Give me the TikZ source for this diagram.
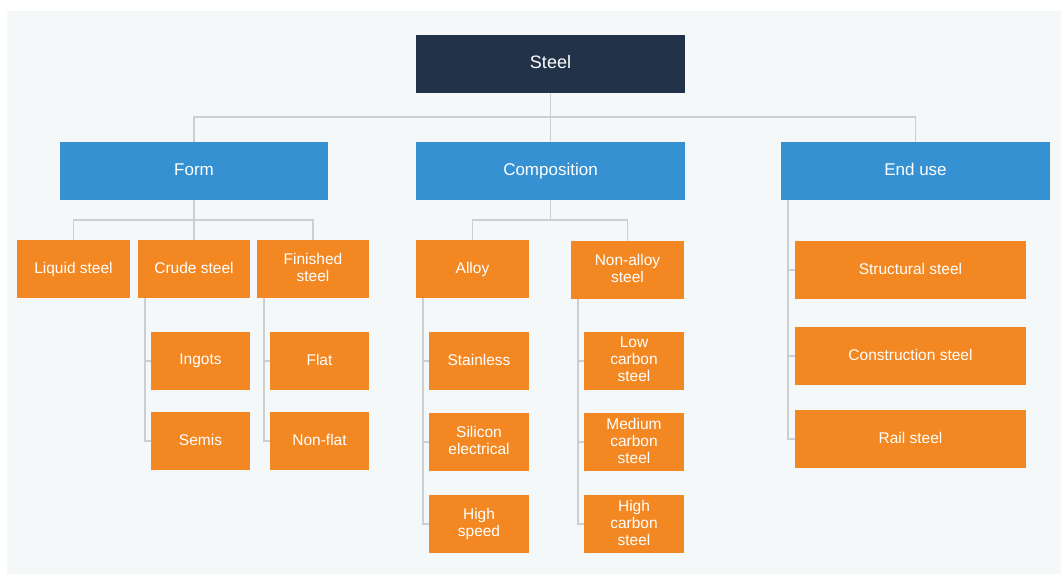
\documentclass[tikz,border=0pt]{standalone}
\usepackage{fontspec}
\setmainfont{Liberation Sans}
\definecolor{bgc}{RGB}{244,248,249}
\definecolor{navy}{RGB}{34,50,72}
\definecolor{blu}{RGB}{53,145,209}
\definecolor{ora}{RGB}{243,136,35}
\definecolor{lin}{RGB}{203,207,209}
\tikzset{
  base/.style={draw=none, inner sep=0pt, align=center, text=white, anchor=center},
  rootbox/.style={base, fill=navy, font=\fontsize{18}{20}\selectfont},
  catbox/.style={base, fill=blu, font=\fontsize{17}{20}\selectfont},
  leafbox/.style={base, fill=ora, font=\fontsize{15.5}{17}\selectfont},
  conn/.style={draw=lin, line width=1.8pt}
}
\begin{document}
\begin{tikzpicture}[x=1pt,y=-1pt]
\useasboundingbox (0,0) rectangle (1061,574);
\fill[bgc] (7,11) rectangle (1061,574);
% root
\node[rootbox, minimum width=269pt, minimum height=58pt] (steel) at (550.5,64) {Steel\vphantom{g}};
% categories
\node[catbox, minimum width=268pt, minimum height=58pt] (form) at (194,171) {Form\vphantom{g}};
\node[catbox, minimum width=269pt, minimum height=58pt] (comp) at (550.5,171) {Composition};
\node[catbox, minimum width=269pt, minimum height=58pt] (enduse) at (915.5,171) {End use\vphantom{g}};
% form children
\node[leafbox, minimum width=113pt, minimum height=58pt] (liquid) at (73.5,269) {Liquid steel};
\node[leafbox, minimum width=112pt, minimum height=58pt] (crude) at (194,269) {Crude steel\vphantom{g}};
\node[leafbox, minimum width=112pt, minimum height=58pt] (finished) at (313,269) {Finished\\steel\vphantom{g}};
\node[leafbox, minimum width=99pt, minimum height=58pt] (ingots) at (200.5,361) {Ingots};
\node[leafbox, minimum width=99pt, minimum height=58pt] (semis) at (200.5,441) {Semis\vphantom{g}};
\node[leafbox, minimum width=99pt, minimum height=58pt] (flat) at (319.5,361) {Flat\vphantom{g}};
\node[leafbox, minimum width=99pt, minimum height=58pt] (nonflat) at (319.5,441) {Non-flat\vphantom{g}};
% composition children
\node[leafbox, minimum width=113pt, minimum height=58pt] (alloy) at (472.5,269) {Alloy};
\node[leafbox, minimum width=113pt, minimum height=58pt] (nonalloy) at (627.5,270) {Non-alloy\\steel\vphantom{g}};
\node[leafbox, minimum width=100pt, minimum height=58pt] (stainless) at (479,361) {Stainless\vphantom{g}};
\node[leafbox, minimum width=100pt, minimum height=58pt] (silicon) at (479,442) {Silicon\\electrical\vphantom{g}};
\node[leafbox, minimum width=100pt, minimum height=58pt] (highspeed) at (479,524) {High\\speed};
\node[leafbox, minimum width=100pt, minimum height=58pt] (lowc) at (634,361) {Low\\carbon\\steel\vphantom{g}};
\node[leafbox, minimum width=100pt, minimum height=58pt] (medc) at (634,442) {Medium\\carbon\\steel\vphantom{g}};
\node[leafbox, minimum width=100pt, minimum height=58pt] (highc) at (634,524) {High\\carbon\\steel\vphantom{g}};
% end use children
\node[leafbox, minimum width=231pt, minimum height=58pt] (struct) at (910.5,270) {Structural steel\vphantom{g}};
\node[leafbox, minimum width=231pt, minimum height=58pt] (constr) at (910.5,356) {Construction steel\vphantom{g}};
\node[leafbox, minimum width=231pt, minimum height=58pt] (rail) at (910.5,439) {Rail steel\vphantom{g}};
% junctions
\coordinate (j0) at (550.5,117);
\coordinate (jf) at (194,220);
\coordinate (jc) at (550.5,220);
\coordinate (vc) at (145,298);
\coordinate (vf) at (264,298);
\coordinate (va) at (423,298);
\coordinate (vn) at (578,299);
\coordinate (ve) at (788,200);
% connectors
\draw[conn] (steel.south) -- (j0);
\draw[conn] (j0) -| (form.north);
\draw[conn] (j0) -| (enduse.north);
\draw[conn] (j0) -- (comp.north);
\draw[conn] (form.south) -- (jf);
\draw[conn] (jf) -| (liquid.north);
\draw[conn] (jf) -- (crude.north);
\draw[conn] (jf) -| (finished.north);
\draw[conn] (comp.south) -- (jc);
\draw[conn] (jc) -| (alloy.north);
\draw[conn] (jc) -| (nonalloy.north);
\draw[conn] (vc) |- (semis.west);
\draw[conn] (vc |- ingots.west) -- (ingots.west);
\draw[conn] (vf) |- (nonflat.west);
\draw[conn] (vf |- flat.west) -- (flat.west);
\draw[conn] (va) |- (highspeed.west);
\draw[conn] (va |- stainless.west) -- (stainless.west);
\draw[conn] (va |- silicon.west) -- (silicon.west);
\draw[conn] (vn) |- (highc.west);
\draw[conn] (vn |- lowc.west) -- (lowc.west);
\draw[conn] (vn |- medc.west) -- (medc.west);
\draw[conn] (ve) |- (rail.west);
\draw[conn] (ve |- struct.west) -- (struct.west);
\draw[conn] (ve |- constr.west) -- (constr.west);
\end{tikzpicture}
\end{document}
